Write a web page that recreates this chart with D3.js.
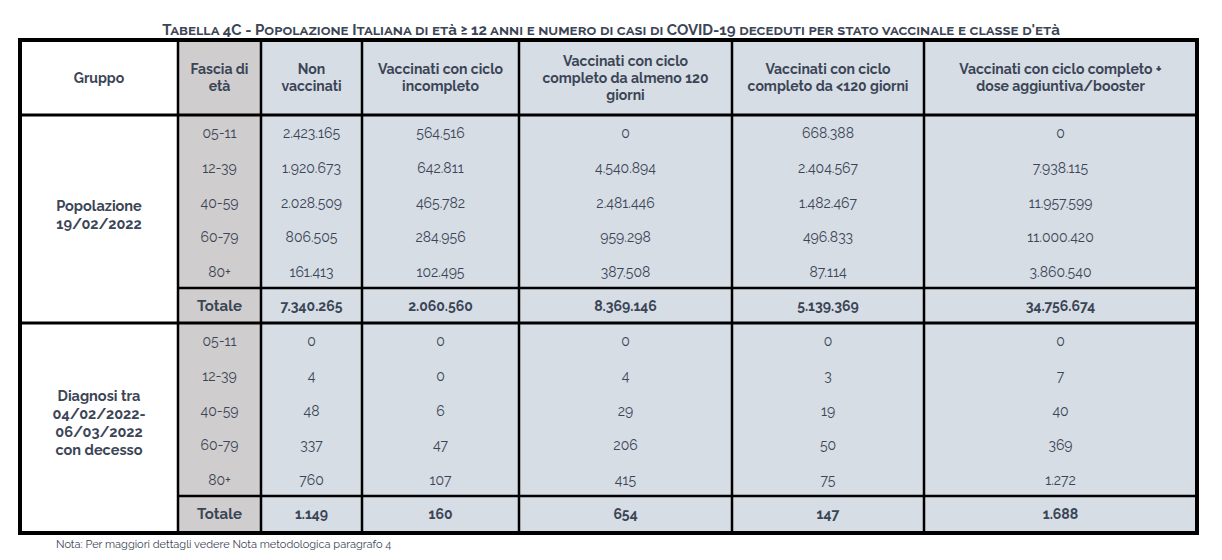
<!DOCTYPE html><html><head><meta charset="utf-8">
<script src="https://cdn.jsdelivr.net/npm/d3@7"></script>
<style>body{margin:0;background:#fff}</style></head><body><svg id="c" width="1222" height="560"></svg>
<script>
const headers=["Gruppo","Fascia di|età","Non|vaccinati","Vaccinati con ciclo|incompleto","Vaccinati con ciclo|completo da almeno 120|giorni","Vaccinati con ciclo|completo da <120 giorni","Vaccinati con ciclo completo +|dose aggiuntiva/booster"];
const ages=["05-11","12-39","40-59","60-79","80+"];
const groups=[["Popolazione","19/02/2022"],["Diagnosi tra","04/02/2022-","06/03/2022","con decesso"]];
const popValues=[["2.423.165","564.516","0","668.388","0"],["1.920.673","642.811","4.540.894","2.404.567","7.938.115"],["2.028.509","465.782","2.481.446","1.482.467","11.957.599"],["806.505","284.956","959.298","496.833","11.000.420"],["161.413","102.495","387.508","87.114","3.860.540"]];
const popTotals=["7.340.265","2.060.560","8.369.146","5.139.369","34.756.674"];
const deathValues=[["0","0","0","0","0"],["4","0","4","3","7"],["48","6","29","19","40"],["337","47","206","50","369"],["760","107","415","75","1.272"]];
const deathTotals=["1.149","160","654","147","1.688"];
const colEdges=[20,178,261,362,519,732,924,1197];
const svg=d3.select("#c");
const F="Raleway, Lato, 'Open Sans', sans-serif";
const ink="#3b4556";
svg.append("text").attr("x",611).attr("y",35).attr("text-anchor","middle").attr("font-family",F).attr("font-weight",700).attr("font-size",15).attr("fill",ink).style("font-variant","small-caps").text("Tabella 4C - Popolazione Italiana di età ≥ 12 anni e numero di casi di COVID-19 deceduti per stato vaccinale e classe d'età");
const hTop=40,hBot=115,gStart=[115,323],rowH=34.6,totH=35.5;
// backgrounds
svg.append("rect").attr("x",colEdges[1]).attr("y",hTop).attr("width",colEdges[2]-colEdges[1]).attr("height",533-hTop).attr("fill","#d0cdce");
svg.append("rect").attr("x",colEdges[2]).attr("y",hTop).attr("width",colEdges[7]-colEdges[2]).attr("height",533-hTop).attr("fill","#d6dde5");
const cx=i=>(colEdges[i]+colEdges[i+1])/2;
function ml(x,y,lines,lh,opts){const t=svg.append("text").attr("text-anchor","middle").attr("font-family",F).attr("font-size",opts.size||14).attr("font-weight",opts.w||700).attr("fill",ink);
 lines.forEach((l,k)=>t.append("tspan").attr("x",x).attr("y",y+(k-(lines.length-1)/2)*lh+5).text(l));}
headers.forEach((h,i)=>ml(cx(i),(hTop+hBot)/2,h.split("|"),17,{}));
[[popValues,popTotals],[deathValues,deathTotals]].forEach(([vals,tots],g)=>{
 const y0=gStart[g];
 ml(cx(0),y0+(5*rowH+totH)/2-4,groups[g],18,{size:14.5});
 ages.forEach((a,r)=>{const y=y0+rowH*(r+0.5)+1;
  ml(cx(1),y,[a],0,{w:400,size:14});
  vals[r].forEach((v,j)=>ml(cx(j+2),y,[v],0,{w:400,size:14}));});
 const ty=y0+5*rowH+totH/2;
 ml(cx(1),ty,["Totale"],0,{size:15});
 tots.forEach((v,j)=>ml(cx(j+2),ty,[v],0,{size:14}));
 svg.append("line").attr("x1",colEdges[1]).attr("x2",colEdges[7]).attr("y1",y0+5*rowH).attr("y2",y0+5*rowH).attr("stroke","#000").attr("stroke-width",2.5);
});
// lines
[hBot,323].forEach(y=>svg.append("line").attr("x1",20).attr("x2",1197).attr("y1",y).attr("y2",y).attr("stroke","#000").attr("stroke-width",3));
colEdges.slice(1,7).forEach(x=>svg.append("line").attr("x1",x).attr("x2",x).attr("y1",hTop).attr("y2",533).attr("stroke","#000").attr("stroke-width",2.5));
svg.append("rect").attr("x",20).attr("y",hTop).attr("width",1177).attr("height",533-hTop).attr("fill","none").attr("stroke","#000").attr("stroke-width",4);
svg.append("text").attr("x",56).attr("y",548).attr("font-family",F).attr("font-size",11).attr("fill",ink).text("Nota: Per maggiori dettagli vedere Nota metodologica paragrafo 4");
</script></body></html>
